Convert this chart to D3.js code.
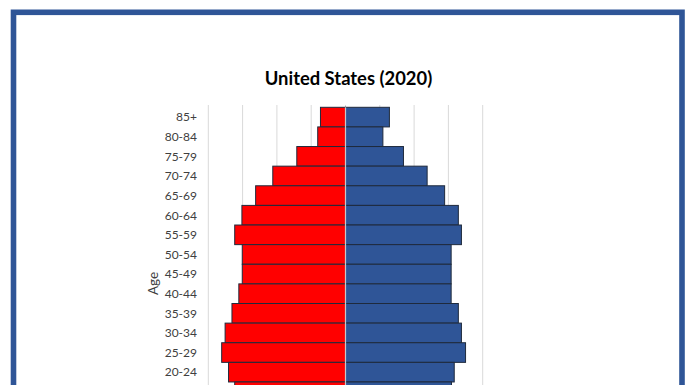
<!DOCTYPE html>
<html>
<head>
<meta charset="utf-8">
<script src="https://cdn.jsdelivr.net/npm/d3@7"></script>
<style>
  html, body { margin: 0; padding: 0; background: #fff; overflow: hidden; }
  svg { display: block; font-family: Lato, "Open Sans", sans-serif; }
</style>
</head>
<body>
<svg width="696" height="385"></svg>
<script>
// age groups, top to bottom
var ageGroups = ['85+', '80-84', '75-79', '70-74', '65-69', '60-64', '55-59', '50-54', '45-49',
  '40-44', '35-39', '30-34', '25-29', '20-24', '15-19', '10-14', '5-9', '0-4'];
// share of total population, %
var male =   [0.73, 0.81, 1.42, 2.12, 2.62, 3.02, 3.23, 3.01, 3.01, 3.11, 3.31, 3.51, 3.61, 3.41, 3.23, 3.25, 3.10, 2.96];
var female = [1.28, 1.09, 1.69, 2.38, 2.89, 3.29, 3.38, 3.08, 3.08, 3.08, 3.29, 3.38, 3.50, 3.17, 3.09, 3.12, 2.98, 2.85];
var xTicks = [-4, -3, -2, -1, 0, 1, 2, 3, 4];

var svg = d3.select('svg');

// outer frame (bottom edge lies below the window)
svg.append('rect')
  .attr('x', 13.5).attr('y', 12.3)
  .attr('width', 668.5).attr('height', 600)
  .attr('fill', 'none')
  .attr('stroke', '#2f5597')
  .attr('stroke-width', 5.6);

svg.append('text')
  .attr('x', 348.5).attr('y', 85)
  .attr('text-anchor', 'middle')
  .attr('font-size', 18.4)
  .attr('font-weight', 'bold')
  .attr('fill', '#000')
  .text('United States (2020)');

var x = d3.scaleLinear().domain([-4, 4]).range([208.3, 482.7]);
var y = d3.scaleBand().domain(ageGroups).range([107.3, 107.3 + 19.62 * ageGroups.length]).padding(0);

// gridlines
svg.append('g').selectAll('line')
  .data(xTicks)
  .join('line')
  .attr('x1', d => x(d)).attr('x2', d => x(d))
  .attr('y1', 105).attr('y2', y.range()[1])
  .attr('stroke', '#d9d9d9')
  .attr('stroke-width', 1);

var rows = ageGroups.map((a, i) => ({age: a, m: male[i], f: female[i]}));

svg.append('g').selectAll('rect')
  .data(rows)
  .join('rect')
  .attr('x', d => x(-d.m))
  .attr('y', d => y(d.age))
  .attr('width', d => x(0) - x(-d.m))
  .attr('height', y.bandwidth())
  .attr('fill', '#ff0000')
  .attr('stroke', '#1f2a3c')
  .attr('stroke-width', 1);

svg.append('g').selectAll('rect')
  .data(rows)
  .join('rect')
  .attr('x', x(0))
  .attr('y', d => y(d.age))
  .attr('width', d => x(d.f) - x(0))
  .attr('height', y.bandwidth())
  .attr('fill', '#2f5597')
  .attr('stroke', '#1f2a3c')
  .attr('stroke-width', 1);

// zero line between the halves
svg.append('line')
  .attr('x1', x(0)).attr('x2', x(0))
  .attr('y1', y.range()[0]).attr('y2', y.range()[1])
  .attr('stroke', '#c8c8c8')
  .attr('stroke-width', 1.2);

// age labels
svg.append('g').selectAll('text')
  .data(ageGroups)
  .join('text')
  .attr('x', 197)
  .attr('y', d => y(d) + y.bandwidth() / 2)
  .attr('dy', '0.36em')
  .attr('text-anchor', 'end')
  .attr('font-size', 12)
  .attr('fill', '#404040')
  .text(d => d);

svg.append('text')
  .attr('transform', 'translate(158,283.5) rotate(-90)')
  .attr('text-anchor', 'middle')
  .attr('font-size', 13.5)
  .attr('fill', '#404040')
  .text('Age');
</script>
</body>
</html>
